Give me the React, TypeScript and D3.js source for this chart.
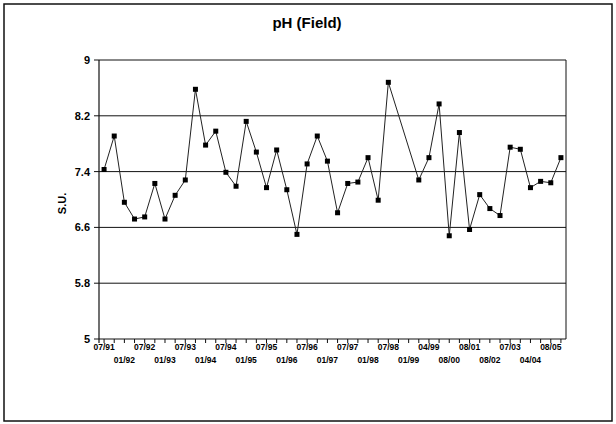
import React from "react";
import * as d3 from "d3";

// quarterly samples from 07/91; only every second category gets a label
const tickLabels = [
  "07/91", "01/92", "07/92", "01/93", "07/93", "01/94", "07/94", "01/95",
  "07/95", "01/96", "07/96", "01/97", "07/97", "01/98", "07/98", "01/99",
  "04/99", "08/00", "08/01", "08/02", "07/03", "04/04", "08/05",
];

// pH (S.U.) per category, null = no sample
const phValues: (number | null)[] = [
  7.43, 7.91, 6.96, 6.72, 6.75, 7.23, 6.72, 7.06, 7.28, 8.58,
  7.78, 7.98, 7.39, 7.19, 8.12, 7.68, 7.17, 7.71, 7.14, 6.5,
  7.51, 7.91, 7.55, 6.81, 7.23, 7.25, 7.6, 6.99, 8.68, null,
  null, 7.28, 7.6, 8.37, 6.48, 7.96, 6.57, 7.07, 6.87, 6.77,
  7.75, 7.72, 7.17, 7.26, 7.24, 7.6,
];

const yTicks = [5, 5.8, 6.6, 7.4, 8.2, 9];

const W = 616;
const H = 424;
const left = 99, right = 566, top = 60, bottom = 339;

export default function App() {
  const x = d3.scaleBand<number>()
    .domain(d3.range(phValues.length))
    .range([left, right]);
  const y = d3.scaleLinear().domain([5, 9]).range([bottom, top]);
  const cx = (i: number) => (x(i) as number) + x.bandwidth() / 2;

  const pts = phValues
    .map((v, i) => ({ i, v }))
    .filter((d) => d.v !== null) as { i: number; v: number }[];

  const line = d3.line<{ i: number; v: number }>()
    .x((d) => cx(d.i))
    .y((d) => y(d.v));

  const font = "'Liberation Sans', Arial, sans-serif";

  return (
    <svg width={W} height={H} style={{ position: "absolute", left: 0, top: 0, background: "#fff" }}>
      <rect x={4} y={4} width={608} height={417} fill="none" stroke="#111" strokeWidth={1.5} />
      <text x={307} y={28} textAnchor="middle" fontFamily={font} fontWeight="bold" fontSize={15}>
        pH (Field)
      </text>

      {/* gridlines + y axis */}
      {yTicks.map((t) => (
        <g key={t}>
          {t > 5 && (
            <line x1={left} x2={right} y1={y(t)} y2={y(t)} stroke="#111" strokeWidth={1} />
          )}
          <line x1={left - 5} x2={left} y1={y(t)} y2={y(t)} stroke="#111" />
          <text x={left - 9} y={y(t) + 4} textAnchor="end" fontFamily={font} fontWeight="bold" fontSize={11}>
            {t}
          </text>
        </g>
      ))}
      <line x1={left} x2={left} y1={top} y2={bottom + 4} stroke="#111" strokeWidth={1.2} />
      <line x1={right} x2={right} y1={top} y2={bottom} stroke="#111" strokeWidth={1} />
      <line x1={left} x2={right} y1={bottom} y2={bottom} stroke="#111" strokeWidth={1} />
      <text
        transform={`translate(66,${(top + bottom) / 2 + 4}) rotate(-90)`}
        textAnchor="middle"
        fontFamily={font}
        fontWeight="bold"
        fontSize={11}
      >
        S.U.
      </text>

      {/* x axis ticks and labels */}
      {phValues.map((_, i) => (
        <line key={"t" + i} x1={cx(i)} x2={cx(i)} y1={bottom} y2={bottom + 4} stroke="#111" />
      ))}
      {tickLabels.map((lab, k) => (
        <text
          key={lab}
          x={cx(k * 2)}
          y={k % 2 === 0 ? 350 : 363}
          textAnchor="middle"
          fontFamily={font}
          fontWeight="bold"
          fontSize={8.5}
        >
          {lab}
        </text>
      ))}

      {/* series */}
      <path d={line(pts) || ""} fill="none" stroke="#222" strokeWidth={1} />
      {pts.map((d) => (
        <rect key={d.i} x={cx(d.i) - 2.5} y={y(d.v) - 2.5} width={5} height={5} fill="#000" />
      ))}
    </svg>
  );
}
